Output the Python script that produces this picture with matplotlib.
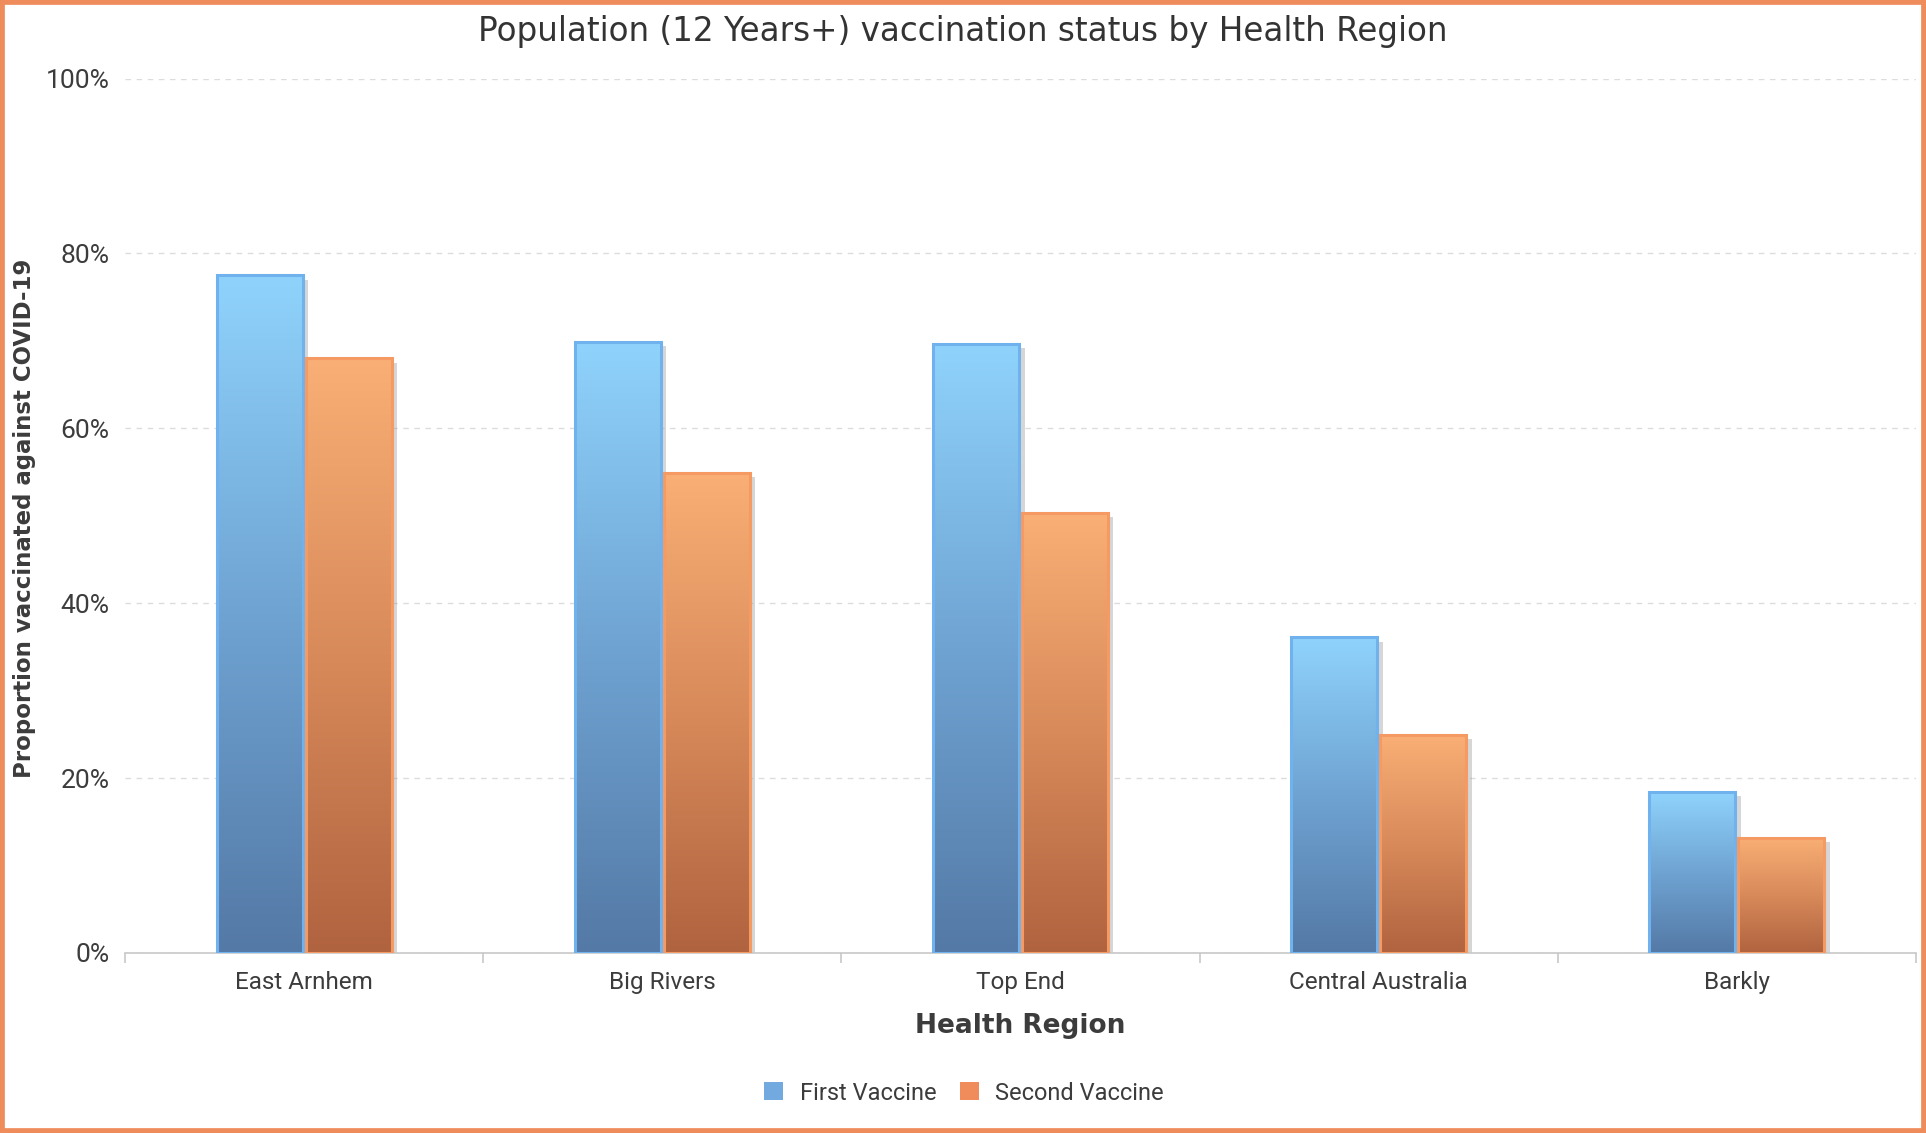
import numpy as np
import matplotlib.pyplot as plt
import matplotlib.patheffects as pe
from matplotlib.colors import LinearSegmentedColormap
from matplotlib.patches import Patch, Rectangle

# Data (percent of 12+ population)
regions = ['East Arnhem', 'Big Rivers', 'Top End', 'Central Australia', 'Barkly']
first_vaccine = [77.5, 69.9, 69.7, 36.1, 18.4]
second_vaccine = [68.0, 54.9, 50.3, 24.9, 13.2]
y_ticks = [0, 20, 40, 60, 80, 100]

W, H = 1926, 1133
fig = plt.figure(figsize=(W / 100, H / 100), dpi=100)
ax = fig.add_axes([125 / W, 1 - 953 / H, (1916 - 125) / W, (953 - 78.6) / H])

blue_cm = LinearSegmentedColormap.from_list('b', ['#5479a6', '#6fa3d2', '#8fd3fc'])
orange_cm = LinearSegmentedColormap.from_list('o', ['#b0633f', '#d88a5a', '#f9af75'])

x = np.arange(len(regions))
w = 0.24
off = 0.124
grad = np.linspace(0, 1, 256).reshape(-1, 1)

shadow = [pe.SimplePatchShadow(offset=(4, -3), shadow_rgbFace='#999999', alpha=0.4), pe.Normal()]

def gradient_bars(xs, vals, cmap, face, edge):
    bars = ax.bar(xs, vals, w, color=face, zorder=2, path_effects=shadow)
    for b in bars:
        x0, h = b.get_x(), b.get_height()
        im = ax.imshow(grad, extent=[x0, x0 + b.get_width(), 0, h], origin='lower',
                       aspect='auto', cmap=cmap, zorder=2.5)
        im.set_clip_path(b)
    ax.bar(xs, vals, w, fill=False, edgecolor=edge, linewidth=2.2, zorder=3)

gradient_bars(x - off, first_vaccine, blue_cm, '#6fa3d2', '#6fb2ee')
gradient_bars(x + off, second_vaccine, orange_cm, '#d88a5a', '#f49a62')

ax.set_xlim(-0.5, len(regions) - 0.5)
ax.set_ylim(0, 100)

# axis styling
for s in ['left', 'right', 'top']:
    ax.spines[s].set_visible(False)
ax.spines['bottom'].set_color('#c8c8c8')
ax.spines['bottom'].set_linewidth(1.2)

ax.set_xticks(np.arange(-0.5, len(regions), 1))
ax.set_xticklabels([])
ax.set_xticks(x, minor=True)
ax.set_xticklabels(regions, minor=True, fontsize=17.5, color='#3c3c3c', family='Roboto')
ax.tick_params(axis='x', which='major', length=7, color='#c8c8c8', width=1.2)
ax.tick_params(axis='x', which='minor', length=0, pad=13)

ax.set_yticks(y_ticks)
ax.set_yticklabels([f'{t}%' for t in y_ticks], fontsize=19, color='#3c3c3c', family='Roboto')
ax.tick_params(axis='y', length=0, pad=11)
ax.yaxis.grid(True, linestyle=(0, (4, 4)), color='#dcdcdc', linewidth=1)
ax.set_axisbelow(True)

fig.text(0.5, 1 - 32 / H, 'Population (12 Years+) vaccination status by Health Region',
         ha='center', va='center', fontsize=23.5, color='#333333')
fig.text((125 + 1916) / 2 / W, 1 - 1026 / H, 'Health Region', ha='center', va='center',
         fontsize=19, fontweight='bold', color='#3c3c3c')
fig.text(24.5 / W, 1 - 518 / H, 'Proportion vaccinated against COVID-19', ha='center', va='center',
         rotation=90, fontsize=16.5, fontweight='bold', color='#3c3c3c')

handles = [Patch(facecolor='#72aae0', label='First Vaccine'),
           Patch(facecolor='#f08c5c', label='Second Vaccine')]
leg = fig.legend(handles=handles, loc='center', bbox_to_anchor=(964 / W, 1 - 1093 / H), ncol=2,
                 frameon=False, handlelength=0.8, handleheight=0.8, handletextpad=0.7,
                 columnspacing=1.0, prop={'family': 'Roboto', 'size': 17})
for t in leg.get_texts():
    t.set_color('#3c3c3c')

fig.patches.append(Rectangle((0, 0), 1, 1, transform=fig.transFigure, fill=False,
                             edgecolor='#ef8c5c', linewidth=7))

fig.savefig('out.png', dpi=100)
